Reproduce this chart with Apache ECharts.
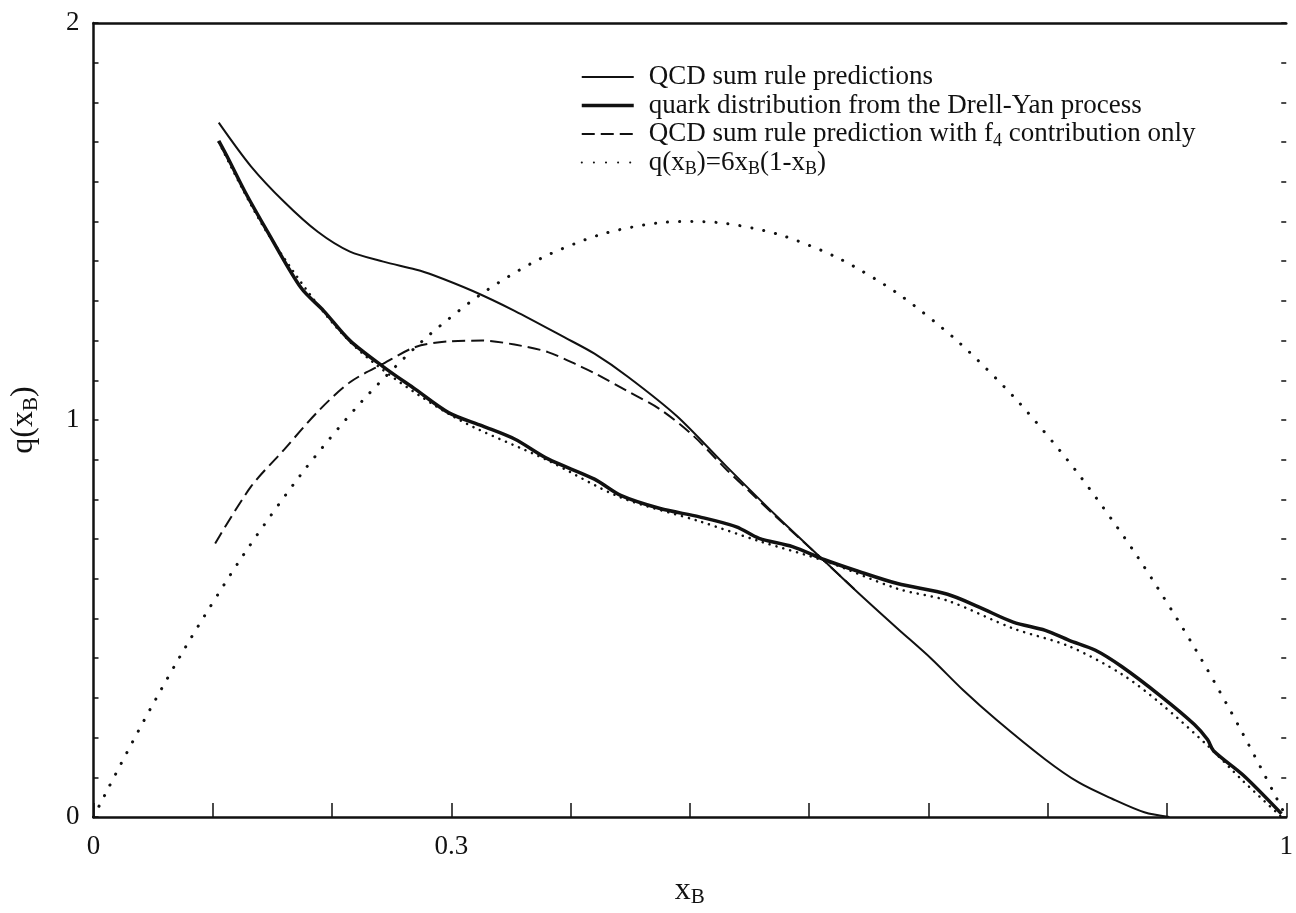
<!DOCTYPE html>
<html>
<head>
<meta charset="utf-8">
<script src="https://cdn.jsdelivr.net/npm/echarts@6/dist/echarts.min.js"></script>
<style>
html,body{margin:0;padding:0;background:#fff;}
#chart{width:1296px;height:913px;}
</style>
</head>
<body>
<div id="chart"></div>
<script>
// ---- data ----
const xTickLabels = [0, 0.3, 1];
const yTickLabels = [0, 1, 2];

const seriesNames = [
  'QCD sum rule predictions',
  'quark distribution from the Drell-Yan process',
  'QCD sum rule prediction with f4 contribution only',
  'q(xB)=6xB(1-xB)'
];

const qcdX = [0.105,0.132,0.160,0.188,0.215,0.243,0.270,0.284,0.318,0.353,0.395,0.420,0.448,0.489,0.530,0.572,0.613,0.641,0.674,0.702,0.729,0.757,0.798,0.826,0.854,0.881,0.902];
const qcdY = [1.749,1.639,1.549,1.474,1.424,1.399,1.379,1.366,1.325,1.275,1.208,1.167,1.109,1.010,0.885,0.760,0.644,0.565,0.475,0.400,0.320,0.245,0.145,0.087,0.046,0.012,0.000];

const dyX = [0.105,0.113,0.127,0.146,0.174,0.193,0.215,0.243,0.270,0.298,0.326,0.353,0.381,0.420,0.442,0.475,0.508,0.539,0.558,0.586,0.613,0.641,0.674,0.716,0.743,0.771,0.798,0.818,0.840,0.862,0.895,0.923,0.934,0.939,0.964,0.996];
const dyY = [1.703,1.658,1.575,1.474,1.333,1.275,1.200,1.134,1.077,1.018,0.985,0.952,0.902,0.851,0.810,0.777,0.756,0.731,0.702,0.681,0.648,0.619,0.588,0.561,0.528,0.491,0.470,0.445,0.420,0.379,0.304,0.233,0.195,0.167,0.105,0.008];

const dyDotX = [0.105,0.146,0.215,0.298,0.381,0.442,0.508,0.558,0.613,0.674,0.716,0.771,0.818,0.862,0.895,0.934,0.964,0.996];
const dyDotY = [1.700,1.470,1.197,1.015,0.898,0.805,0.745,0.695,0.645,0.575,0.545,0.475,0.430,0.360,0.285,0.180,0.090,0.000];

const f4X = [0.102,0.132,0.160,0.188,0.215,0.243,0.270,0.298,0.326,0.353,0.381,0.409,0.420,0.448,0.475,0.503,0.530,0.550,0.572,0.613,0.641];
const f4Y = [0.689,0.832,0.926,1.021,1.095,1.142,1.184,1.198,1.200,1.190,1.171,1.134,1.118,1.072,1.027,0.960,0.877,0.820,0.757,0.644,0.565];

const paraX = [0,0.05,0.1,0.15,0.2,0.25,0.3,0.35,0.4,0.45,0.5,0.55,0.6,0.65,0.7,0.75,0.8,0.85,0.9,0.95,1];
const paraY = [0,0.285,0.54,0.765,0.96,1.125,1.26,1.365,1.44,1.485,1.5,1.485,1.44,1.365,1.26,1.125,0.96,0.765,0.54,0.285,0];

function pairs(xs, ys){ return xs.map((x,i)=>[x, ys[i]]); }

const FONT = '"Liberation Serif","DejaVu Serif",serif';
const INK = '#111';

const legendRich = {
  '0': 'QCD sum rule predictions',
  '1': 'quark distribution from the Drell-Yan process',
  '2': 'QCD sum rule prediction with f{sub|4} contribution only',
  '3': 'q(x{sub|B})=6x{sub|B}(1-x{sub|B})'
};

const chart = echarts.init(document.getElementById('chart'), null, {renderer:'canvas'});
const option = {
  backgroundColor: '#fff',
  animation: false,
  grid: {left: 88, right: 3, top: 23, bottom: 88, containLabel: false},
  legend: {
    orient: 'vertical',
    left: 575,
    top: 56,
    itemWidth: 52,
    itemHeight: 10,
    itemGap: -3.5,
    selectedMode: false,
    data: [
      {name: seriesNames[0]},
      {name: seriesNames[1], lineStyle: {width: 3.5}},
      {name: seriesNames[2]},
      {name: seriesNames[3]}
    ],
    itemStyle: {opacity: 0},
    formatter: function(name){ return legendRich[String(seriesNames.indexOf(name))]; },
    textStyle: {
      fontFamily: FONT, fontSize: 27, color: INK, lineHeight: 32, padding: [0,0,0,10],
      rich: { sub: {fontFamily: FONT, fontSize: 18, color: INK, lineHeight: 18, padding: [14,0,0,0]} }
    }
  },
  xAxis: [{
    type: 'value', min: 0, max: 1, interval: 0.1,
    name: 'x{sub|B}', nameLocation: 'middle', nameGap: 56,
    nameTextStyle: {fontFamily: FONT, fontSize: 32, color: INK,
      rich: {sub: {fontFamily: FONT, fontSize: 21, color: INK, padding: [14,0,0,0]}}},
    axisLine: {show: true, onZero: false, lineStyle: {color: INK, width: 2.5}},
    axisTick: {show: true, inside: true, length: 14, lineStyle: {color: INK, width: 1.5}},
    splitLine: {show: false},
    axisLabel: {
      fontFamily: FONT, fontSize: 27, color: INK, margin: 16, showMinLabel: true, showMaxLabel: true,
      formatter: function(v){ const r = Math.round(v*10)/10; return xTickLabels.indexOf(r) >= 0 ? String(r) : ''; }
    }
  }, {
    type: 'value', min: 0, max: 1, position: 'top',
    axisLine: {show: true, onZero: false, lineStyle: {color: INK, width: 2.5}},
    axisTick: {show: false}, axisLabel: {show: false}, splitLine: {show: false}
  }],
  yAxis: [{
    type: 'value', min: 0, max: 2, interval: 0.1,
    name: 'q(x{sub|B})', nameLocation: 'middle', nameGap: 52, nameRotate: 90,
    nameTextStyle: {fontFamily: FONT, fontSize: 32, color: INK,
      rich: {sub: {fontFamily: FONT, fontSize: 21, color: INK, padding: [14,0,0,0]}}},
    axisLine: {show: true, onZero: false, lineStyle: {color: INK, width: 2.5}},
    axisTick: {show: true, inside: true, length: 5, lineStyle: {color: INK, width: 1.5}},
    splitLine: {show: false},
    axisLabel: {
      fontFamily: FONT, fontSize: 27, color: INK, margin: 14, showMinLabel: true, showMaxLabel: true,
      formatter: function(v){ const r = Math.round(v*10)/10; return yTickLabels.indexOf(r) >= 0 ? String(r) : ''; }
    }
  }, {
    type: 'value', min: 0, max: 2, interval: 0.1, position: 'right', offset: 0,
    axisLine: {show: true, onZero: false, lineStyle: {color: INK, width: 0, opacity: 0}},
    axisTick: {show: true, inside: true, length: 5, lineStyle: {color: INK, width: 1.5}},
    axisLabel: {show: false}, splitLine: {show: false}
  }],
  series: [
    {
      name: seriesNames[0], type: 'line', showSymbol: false, symbol: 'none', smooth: 0.3,
      data: pairs(qcdX, qcdY),
      lineStyle: {color: INK, width: 2, type: 'solid'}, itemStyle: {color: INK}, z: 3
    },
    {
      name: seriesNames[1], type: 'line', showSymbol: false, symbol: 'none', smooth: 0.3,
      data: pairs(dyX, dyY),
      lineStyle: {color: INK, width: 3.5, type: 'solid'}, itemStyle: {color: INK}, z: 4
    },
    {
      name: seriesNames[1], type: 'line', showSymbol: false, symbol: 'none', smooth: 0.3,
      data: pairs(dyDotX, dyDotY),
      lineStyle: {color: INK, width: 2.5, type: [0.1, 7], cap: 'round'}, itemStyle: {color: INK}, z: 4
    },
    {
      name: seriesNames[2], type: 'line', showSymbol: false, symbol: 'none', smooth: 0.3,
      data: pairs(f4X, f4Y),
      lineStyle: {color: INK, width: 2, type: [13, 6]}, itemStyle: {color: INK}, z: 2
    },
    {
      name: seriesNames[3], type: 'line', showSymbol: false, symbol: 'none', smooth: 0.4,
      data: pairs(paraX, paraY),
      lineStyle: {color: INK, width: 3, type: [0.1, 12], cap: 'round'}, itemStyle: {color: INK}, z: 1
    }
  ]
};
chart.setOption(option);
</script>
</body>
</html>
